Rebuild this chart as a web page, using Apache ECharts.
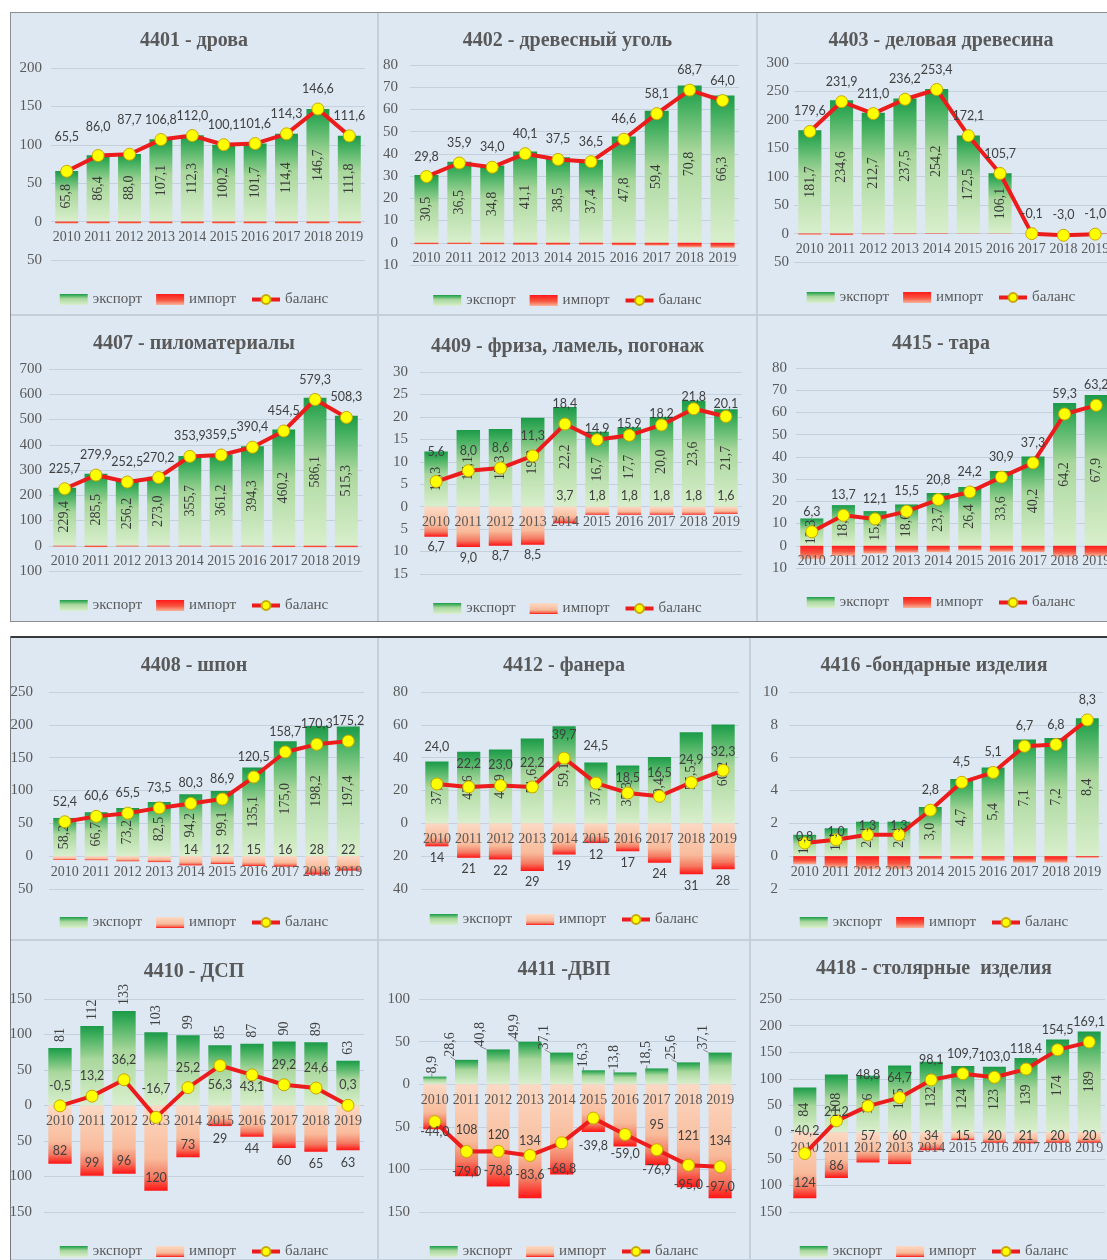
<!DOCTYPE html>
<html><head><meta charset="utf-8">
<script src="https://cdn.jsdelivr.net/npm/echarts@6/dist/echarts.min.js"></script>
<style>
html,body{margin:0;padding:0;background:#fff;width:1107px;height:1260px;overflow:hidden;position:relative;}
.panel{position:absolute;background:#dde8f3;box-shadow:inset 0 0 0 1px #c4cfdc;}
.line{position:absolute;pointer-events:none;}
</style></head><body>
<script>
// ---------- DATA ----------
const years = ['2010','2011','2012','2013','2014','2015','2016','2017','2018','2019'];

const title4401 = '4401 - дрова';
const exp4401 = [65.8, 86.4, 88.0, 107.1, 112.3, 100.2, 101.7, 114.4, 146.7, 111.8];
const imp4401 = [-0.3, -0.4, -0.3, -0.3, -0.3, -0.1, -0.1, -0.1, -0.1, -0.2];
const bal4401 = [65.5, 86.0, 87.7, 106.8, 112.0, 100.1, 101.6, 114.3, 146.6, 111.6];
const yAx4401 = [-50, 200, 50];

const title4402 = '4402 - древесный уголь';
const exp4402 = [30.5, 36.5, 34.8, 41.1, 38.5, 37.4, 47.8, 59.4, 70.8, 66.3];
const imp4402 = [-0.7, -0.6, -0.8, -1.0, -1.0, -0.9, -1.2, -1.3, -2.1, -2.3];
const bal4402 = [29.8, 35.9, 34.0, 40.1, 37.5, 36.5, 46.6, 58.1, 68.7, 64.0];
const yAx4402 = [-10, 80, 10];

const title4403 = '4403 - деловая древесина';
const exp4403 = [181.7, 234.6, 212.7, 237.5, 254.2, 172.5, 106.1, 0, 0, 0];
const imp4403 = [-2.1, -2.7, -1.7, -1.3, -0.8, -0.4, -0.4, -0.1, -3.0, -1.0];
const bal4403 = [179.6, 231.9, 211.0, 236.2, 253.4, 172.1, 105.7, -0.1, -3.0, -1.0];
const yAx4403 = [-50, 300, 50];

const title4407 = '4407 - пиломатериалы';
const exp4407 = [229.4, 285.5, 256.2, 273.0, 355.7, 361.2, 394.3, 460.2, 586.1, 515.3];
const imp4407 = [-3.7, -5.6, -3.7, -2.8, -1.8, -1.7, -3.9, -5.7, -6.8, -7.0];
const bal4407 = [225.7, 279.9, 252.5, 270.2, 353.9, 359.5, 390.4, 454.5, 579.3, 508.3];
const yAx4407 = [-100, 700, 100];

const title4409 = '4409 - фриза, ламель, погонаж';
const exp4409 = [12.3, 17.1, 17.3, 19.8, 22.2, 16.7, 17.7, 20.0, 23.6, 21.7];
const imp4409 = [-6.7, -9.0, -8.7, -8.5, -3.7, -1.8, -1.8, -1.8, -1.8, -1.6];
const bal4409 = [5.6, 8.0, 8.6, 11.3, 18.4, 14.9, 15.9, 18.2, 21.8, 20.1];
const yAx4409 = [-15, 30, 5];

const title4415 = '4415 - тара';
const exp4415 = [12.3, 18.3, 15.6, 18.6, 23.7, 26.4, 33.6, 40.2, 64.2, 67.9];
const imp4415 = [-6.0, -4.6, -3.5, -3.1, -2.9, -2.2, -2.7, -2.9, -4.9, -4.7];
const bal4415 = [6.3, 13.7, 12.1, 15.5, 20.8, 24.2, 30.9, 37.3, 59.3, 63.2];
const yAx4415 = [-10, 80, 10];

const title4408 = '4408 - шпон';
const exp4408 = [58.2, 66.7, 73.2, 82.5, 94.2, 99.1, 135.1, 175.0, 198.2, 197.4];
const imp4408 = [-5.8, -6.1, -7.7, -9.0, -14, -12, -15, -16, -28, -22];
const bal4408 = [52.4, 60.6, 65.5, 73.5, 80.3, 86.9, 120.5, 158.7, 170.3, 175.2];
const yAx4408 = [-50, 250, 50];

const title4412 = '4412 - фанера';
const exp4412 = [37.7, 43.6, 44.9, 51.6, 59.1, 37.0, 35.3, 40.4, 55.5, 60.2];
const imp4412 = [-14, -21, -22, -29, -19, -12, -17, -24, -31, -28];
const bal4412 = [24.0, 22.2, 23.0, 22.2, 39.7, 24.5, 18.5, 16.5, 24.9, 32.3];
const yAx4412 = [-40, 80, 20];

const title4416 = '4416 -бондарные изделия';
const exp4416 = [1.3, 1.7, 2.1, 2.1, 3.0, 4.7, 5.4, 7.1, 7.2, 8.4];
const imp4416 = [-0.5, -0.7, -0.8, -0.8, -0.2, -0.2, -0.3, -0.4, -0.4, -0.1];
const bal4416 = [0.8, 1.0, 1.3, 1.3, 2.8, 4.5, 5.1, 6.7, 6.8, 8.3];
const yAx4416 = [-2, 10, 2];

const title4410 = '4410 - ДСП';
const exp4410 = [81, 112, 133, 103, 99, 85, 87, 90, 89, 63];
const imp4410 = [-82, -99, -96, -120, -73, -29, -44, -60, -65, -63];
const bal4410 = [-0.5, 13.2, 36.2, -16.7, 25.2, 56.3, 43.1, 29.2, 24.6, 0.3];
const yAx4410 = [-150, 150, 50];

const title4411 = '4411 -ДВП';
const exp4411 = [8.9, 28.6, 40.8, 49.9, 37.1, 16.3, 13.8, 18.5, 25.6, 37.1];
const imp4411 = [-53, -108, -120, -134, -106, -56, -73, -95, -121, -134];
const bal4411 = [-44.0, -79.0, -78.8, -83.6, -68.8, -39.8, -59.0, -76.9, -95.0, -97.0];
const yAx4411 = [-150, 100, 50];

const title4418 = '4418 - столярные  изделия';
const exp4418 = [84, 108, 106, 125, 132, 124, 123, 139, 174, 189];
const imp4418 = [-124, -86, -57, -60, -34, -15, -20, -21, -20, -20];
const bal4418 = [-40.2, 21.2, 48.8, 64.7, 98.1, 109.7, 103.0, 118.4, 154.5, 169.1];
const yAx4418 = [-150, 250, 50];

const legendNames = ['экспорт', 'импорт', 'баланс'];

// ---------- FORMATTERS ----------
const f1 = v => v.toFixed(1).replace('.', ',');
const a1 = v => Math.abs(v).toFixed(1).replace('.', ',');
const a0 = v => String(Math.round(Math.abs(v)));

// ---------- LAYOUT / STYLE ----------
const panels = [
  {t:title4401, e:exp4401, m:imp4401, b:bal4401, y:yAx4401, box:[10,12,368,303], grid:[41,56,314,192], yM:9, tT:14, lT:275,
   impStyle:'red', impMin:2, eMode:'inside', eF:f1, balDist:{0:21,1:16,2:21}},
  {t:title4402, e:exp4402, m:imp4402, b:bal4402, y:yAx4402, box:[378,12,379,303], grid:[32,53,329,200], yM:12, tT:14, lT:276,
   impStyle:'red', eMode:'inside', eF:f1},
  {t:title4403, e:exp4403, m:imp4403, b:bal4403, y:yAx4403, box:[757,12,368,303], grid:[37,51,317,199], yM:5, tT:14, lT:273,
   impStyle:'red', eMode:'inside', eF:f1},
  {t:title4407, e:exp4407, m:imp4407, b:bal4407, y:yAx4407, box:[10,315,368,307], grid:[39,54,313,202], yM:7, tT:14, lT:278,
   impStyle:'red', impMin:1, eMode:'inside', eF:f1},
  {t:title4409, e:exp4409, m:imp4409, b:bal4409, y:yAx4409, box:[378,315,379,307], grid:[42,57,322,202], yM:12, tT:17, lT:281,
   impStyle:'salmon', eMode:'inside', eF:f1,
   mPos:['bottom','bottom','bottom','bottom','top','top','top','top','top','top'], mF:a1, mDist:4,
   balDist:{0:17,5:-2,6:-2,7:-2,8:-1,9:-1}},
  {t:title4415, e:exp4415, m:imp4415, b:bal4415, y:yAx4415, box:[757,315,368,307], grid:[39,53,316,200], yM:9, tT:14, lT:275,
   impStyle:'red', eMode:'inside', eF:f1},
  {t:title4408, e:exp4408, m:imp4408, b:bal4408, y:yAx4408, box:[10,637,368,303], grid:[39,55,315,197], yM:16, tT:14, lT:273,
   impStyle:'salmon', eMode:'inside', eF:f1,
   mPos:[null,null,null,null,'top','top','top','top','top','top'], mF:a0, mDist:0},
  {t:title4412, e:exp4412, m:imp4412, b:bal4412, y:yAx4412, box:[378,637,372,303], grid:[43,55,318,197], yM:13, tT:14, lT:270,
   impStyle:'salmon', eMode:'inside', eF:f1,
   mPos:['bottom','bottom','bottom','bottom','bottom','bottom','bottom','bottom','bottom','bottom'], mF:a0, mDist:5,
   balDist:{0:24,1:10,2:8,3:11,4:10,5:24,6:2,7:10,8:9,9:5}},
  {t:title4416, e:exp4416, m:imp4416, b:bal4416, y:yAx4416, box:[750,637,368,303], grid:[39,55,314,197], yM:11, tT:14, lT:273,
   impStyle:'red', eMode:'inside', eF:f1, balDist:{0:-7,1:-5,2:-4,3:-4}},
  {t:title4410, e:exp4410, m:imp4410, b:bal4410, y:yAx4410, box:[10,940,368,320], grid:[34,59,320,213], yM:12, tT:17, lT:299,
   impStyle:'salmon', eMode:'top', eF:a0, eDist:6,
   mPos:['insideBottom','insideBottom','insideBottom','insideBottom','insideBottom','bottom','bottom','bottom','bottom','bottom'], mF:a0, mDist:6,
   balPos:['top','top','top','top','top','bottom','bottom','top','top','top'], balDist:{3:15,5:6,6:-1}},
  {t:title4411, e:exp4411, m:imp4411, b:bal4411, y:yAx4411, box:[378,940,372,320], grid:[41,59,317,213], yM:9, tT:15, lT:299,
   impStyle:'salmon', eMode:'top', eF:f1, eDist:3, eDy:[-3,-16,-18,-16,-17,-10,-11,-10,-17,-17],
   mPos:[null,'inside','inside','inside',null,null,null,'inside','inside','inside'], mF:a0, mDist:5,
   balPos:'bottom', balDist:{0:-3,4:13,5:15}},
  {t:title4418, e:exp4418, m:imp4418, b:bal4418, y:yAx4418, box:[750,940,368,320], grid:[39,59,316,213], yM:7, tT:14, lT:299,
   impStyle:'salmon', eMode:'inside', eF:a0,
   mPos:['insideBottom','insideBottom','insideTop','insideTop','insideTop','insideTop','insideTop','insideTop','insideTop','insideTop'], mF:a0,
   mDistArr:[9,5,-3,-3,-3,-3,-3,-3,-3,-3],
   balDist:{0:10,1:-4,2:18}}
];

function gGreen(){
  return new echarts.graphic.LinearGradient(0,0,0,1,[
    {offset:0,color:'#1b9a48'},{offset:0.12,color:'#3fae5d'},{offset:0.42,color:'#a9d79c'},{offset:1,color:'#d9efcd'}]);
}
function gImp(style){
  if(style==='red') return new echarts.graphic.LinearGradient(0,0,0,1,[
    {offset:0,color:'#ff1a1a'},{offset:0.55,color:'#f7553f'},{offset:1,color:'#f8b59b'}]);
  return new echarts.graphic.LinearGradient(0,0,0,1,[
    {offset:0,color:'#fcd9c4'},{offset:0.62,color:'#f8bb9b'},{offset:0.84,color:'#f47a62'},{offset:1,color:'#ff1414'}]);
}

const SERIF = 'Liberation Serif';
const SANS = 'Lato';

function build(p){
  const d = document.createElement('div');
  d.className = 'panel';
  d.style.left = p.box[0]+'px'; d.style.top = p.box[1]+'px';
  d.style.width = p.box[2]+'px'; d.style.height = p.box[3]+'px';
  document.body.appendChild(d);
  const ch = echarts.init(d, null, {renderer:'canvas'});

  const eData = p.e.map((v,i)=>{
    const it = {value:v};
    if(v===0) it.label = {show:false};
    return it;
  });
  const eLabel = p.eMode==='top'
    ? {show:true, position:'top', rotate:90, align:'left', verticalAlign:'middle', distance:p.eDist,
       fontFamily:SERIF, fontSize:14, color:'#404040', formatter:q=>p.eF(q.value)}
    : {show:true, position:'inside', rotate:90, align:'center', verticalAlign:'middle',
       fontFamily:SERIF, fontSize:14, color:'#3a3a3a', formatter:q=>p.eF(q.value)};

  const mData = p.m.map((v,i)=>{
    const it = {value:v};
    const pos = p.mPos ? p.mPos[i] : null;
    if(pos){
      it.label = {show:true, position:pos, distance: p.mDistArr ? p.mDistArr[i] : p.mDist};
    } else it.label = {show:false};
    return it;
  });

  const bData = p.b.map((v,i)=>{
    const pos = Array.isArray(p.balPos) ? p.balPos[i] : (p.balPos || 'top');
    const dist = (p.balDist && p.balDist[i]!=null) ? p.balDist[i] : 7;
    return {value:v, label:{position:pos, distance:dist}};
  });

  const expSeries = {
    name:legendNames[0], type:'bar', stack:'s', barWidth:'73%', z:2,
    itemStyle:{color:gGreen()}, data:eData, label:eLabel
  };
  if(p.eDy){
    expSeries.labelLayout = q => ({dy: p.eDy[q.dataIndex]});
    expSeries.labelLine = {show:true, lineStyle:{color:'#8a8a8a', width:1}};
  }

  // category axis drawn at the value-axis zero line
  const zeroOffset = -((0 - p.y[0]) / (p.y[1] - p.y[0])) * p.grid[3];

  ch.setOption({
    animation:false,
    title:{text:p.t, left:'center', top:p.tT,
      textStyle:{fontFamily:SERIF, fontWeight:'bold', fontSize:20, color:'#595959'}},
    legend:{top:p.lT, left:'center', itemWidth:28, itemHeight:11, itemGap:14,
      lineStyle:{width:4},
      textStyle:{fontFamily:SERIF, fontSize:15, color:'#595959'},
      data:[{name:legendNames[0], icon:'rect'},{name:legendNames[1], icon:'rect'},{name:legendNames[2]}]},
    grid:{left:p.grid[0], top:p.grid[1], width:p.grid[2], height:p.grid[3], containLabel:false, outerBoundsMode:'none'},
    xAxis:{type:'category', data:years, position:'bottom', offset:zeroOffset, z:10,
      axisLine:{show:false, onZero:false}, axisTick:{show:false},
      axisLabel:{interval:0, fontFamily:SERIF, fontSize:14, color:'#595959', margin:9}},
    yAxis:{type:'value', min:p.y[0], max:p.y[1], interval:p.y[2],
      axisLine:{show:false}, axisTick:{show:false},
      axisLabel:{formatter:v=>String(Math.abs(v)), fontFamily:SERIF, fontSize:15, color:'#595959', margin:p.yM},
      splitLine:{lineStyle:{color:'#c5d0dd', width:1}}},
    series:[
      expSeries,
      {name:legendNames[1], type:'bar', stack:'s', barWidth:'73%', z:2, barMinHeight:p.impMin||0,
       itemStyle:{color:gImp(p.impStyle)}, data:mData,
       label:{show:false, fontFamily:SANS, fontSize:12.5, color:'#404040', formatter:q=>p.mF ? p.mF(q.value) : ''}},
      {name:legendNames[2], type:'line', z:12, data:bData, symbol:'circle', symbolSize:12,
       lineStyle:{color:'#ec1c1c', width:4}, itemStyle:{color:'#ffff00', borderColor:'#c8a800', borderWidth:1},
       label:{show:true, fontFamily:SANS, fontSize:12.5, color:'#404040', formatter:q=>f1(q.value)}}
    ]
  });
}

panels.forEach(build);

// frames
function line(l,t,w,h,c){
  const d=document.createElement('div'); d.className='line';
  d.style.left=l+'px'; d.style.top=t+'px'; d.style.width=w+'px'; d.style.height=h+'px'; d.style.background=c;
  d.style.zIndex=10; document.body.appendChild(d);
}
line(10,12,1097,1,'#8e8e8e');
line(10,621,1097,1,'#8e8e8e');
line(10,12,1,610,'#8e8e8e');
line(10,636,1097,2,'#3a3a3a');
line(10,636,1,624,'#7a7a7a');
</script>
</body></html>
